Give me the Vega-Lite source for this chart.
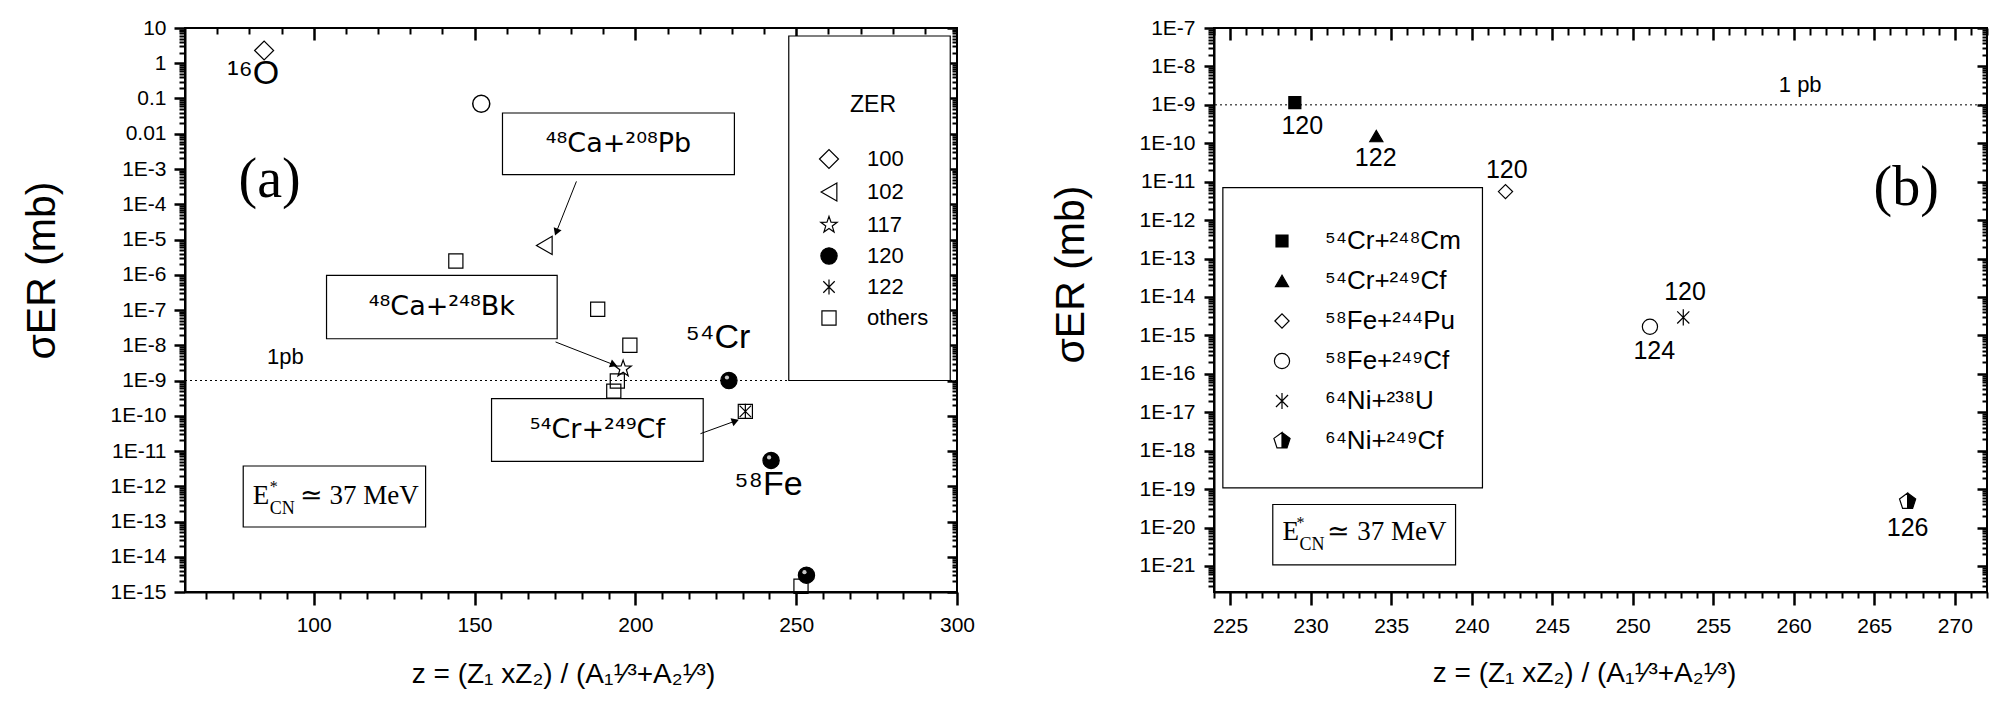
{
 "$schema": "https://vega.github.io/schema/vega-lite/v6.json",
 "padding": {"left": 20, "top": 16, "right": 5, "bottom": 5},
 "spacing": 257,
 "bounds": "flush",
 "resolve": {"scale": {"shape": "independent", "fill": "independent", "size": "independent"}, "legend": {"shape": "independent", "fill": "independent", "size": "independent"}},
 "config": {
  "view": {"stroke": "black", "strokeWidth": 2},
  "axis": {"grid": false, "ticks": true, "domainColor": "black", "domainWidth": 2, "tickColor": "black", "tickOpacity": 1, "tickWidth": 2.5, "labelColor": "black", "labelFont": "Liberation Sans", "labelFontSize": 21, "titleFont": "Liberation Sans", "titleColor": "black", "titleFontWeight": "normal", "labelOverlap": false, "labelBound": false, "labelFlush": false},
  "text": {"font": "Liberation Sans", "color": "black"}
 },
 "datasets": {
  "ptsA": [
   {"z": 84.6, "sigma": 2.3, "ZER": "100"},
   {"z": 171.7, "sigma": 6.8e-6, "ZER": "102"},
   {"z": 144.2, "sigma": 2.45e-6, "ZER": "others"},
   {"z": 188.3, "sigma": 1.05e-7, "ZER": "others"},
   {"z": 198.3, "sigma": 1.0e-8, "ZER": "others"},
   {"z": 196.2, "sigma": 2.16e-9, "ZER": "117"},
   {"z": 194.4, "sigma": 9.7e-10, "ZER": "others"},
   {"z": 193.3, "sigma": 5.0e-10, "ZER": "others"},
   {"z": 229.1, "sigma": 1.0e-9, "ZER": "120"},
   {"z": 234.2, "sigma": 1.33e-10, "ZER": "others"},
   {"z": 234.2, "sigma": 1.33e-10, "ZER": "122"},
   {"z": 242.2, "sigma": 5.4e-12, "ZER": "120"},
   {"z": 251.5, "sigma": 1.46e-15, "ZER": "others"},
   {"z": 253.2, "sigma": 3.0e-15, "ZER": "120"}
  ],
  "ptsB": [
   {"z": 229.02, "sigma": 1.14e-9, "reaction": "⁵⁴Cr+²⁴⁸Cm"},
   {"z": 234.08, "sigma": 1.54e-10, "reaction": "⁵⁴Cr+²⁴⁹Cf"},
   {"z": 242.1, "sigma": 5.53e-12, "reaction": "⁵⁸Fe+²⁴⁴Pu"},
   {"z": 251.07, "sigma": 1.68e-15, "reaction": "⁵⁸Fe+²⁴⁹Cf"},
   {"z": 253.14, "sigma": 2.94e-15, "reaction": "⁶⁴Ni+²³⁸U"},
   {"z": 267.07, "sigma": 4.75e-20, "reaction": "⁶⁴Ni+²⁴⁹Cf"}
  ]
 },
 "hconcat": [
  {
   "width": 772,
   "height": 564,
   "resolve": {"axis": {"x": "independent", "y": "independent"}},
   "layer": [
    {
     "data": {"values": [{"sigma": 1e-9}]},
     "mark": {"type": "rule", "strokeDash": [2, 3], "strokeWidth": 1, "color": "black"},
     "encoding": {
      "y": {"field": "sigma", "type": "quantitative", "scale": {"type": "log", "domain": [1e-15, 10], "nice": false}, "axis": null}
     }
    },
    {
     "data": {"values": [
      {"box": "Pb", "z": 158.7, "z2": 230.8, "sigma": 0.0388, "sigma2": 6.89e-4},
      {"box": "Bk", "z": 104.0, "z2": 175.7, "sigma": 9.6e-7, "sigma2": 1.53e-8},
      {"box": "Cf", "z": 155.3, "z2": 221.1, "sigma": 3.05e-10, "sigma2": 5.07e-12},
      {"box": "E", "z": 78.1, "z2": 134.8, "sigma": 3.75e-12, "sigma2": 6.98e-14},
      {"box": "legend", "z": 247.7, "z2": 297.9, "sigma": 5.93, "sigma2": 1e-9}
     ]},
     "mark": {"type": "rect", "fill": "white", "stroke": "black", "strokeWidth": 1.2},
     "encoding": {
      "x": {"field": "z", "type": "quantitative", "scale": {"type": "linear", "domain": [60, 300], "nice": false, "zero": false},
       "axis": {"orient": "bottom", "values": [66.6667, 75, 83.3333, 91.6667, 108.3333, 116.6667, 125, 133.3333, 141.6667, 158.3333, 166.6667, 175, 183.3333, 191.6667, 208.3333, 216.6667, 225, 233.3333, 241.6667, 258.3333, 266.6667, 275, 283.3333, 291.6667], "labels": false, "title": null, "domain": false, "tickSize": 7, "tickWidth": 2, "tickColor": "black"}},
      "x2": {"field": "z2"},
      "y": {"field": "sigma", "type": "quantitative", "scale": {"type": "log", "domain": [1e-15, 10], "nice": false},
       "axis": {"orient": "left", "values": [2e-15,3e-15,4e-15,5e-15,6e-15,7e-15,8e-15,9e-15,2e-14,3e-14,4e-14,5e-14,6e-14,7e-14,8e-14,9e-14,2e-13,3e-13,4e-13,5e-13,6e-13,7e-13,8e-13,9e-13,2e-12,3e-12,4e-12,5e-12,6e-12,7e-12,8e-12,9e-12,2e-11,3e-11,4e-11,5e-11,6e-11,7e-11,8e-11,9e-11,2e-10,3e-10,4e-10,5e-10,6e-10,7e-10,8e-10,9e-10,2e-9,3e-9,4e-9,5e-9,6e-9,7e-9,8e-9,9e-9,2e-8,3e-8,4e-8,5e-8,6e-8,7e-8,8e-8,9e-8,2e-7,3e-7,4e-7,5e-7,6e-7,7e-7,8e-7,9e-7,2e-6,3e-6,4e-6,5e-6,6e-6,7e-6,8e-6,9e-6,2e-5,3e-5,4e-5,5e-5,6e-5,7e-5,8e-5,9e-5,2e-4,3e-4,4e-4,5e-4,6e-4,7e-4,8e-4,9e-4,2e-3,3e-3,4e-3,5e-3,6e-3,7e-3,8e-3,9e-3,0.02,0.03,0.04,0.05,0.06,0.07,0.08,0.09,0.2,0.3,0.4,0.5,0.6,0.7,0.8,0.9,2,3,4,5,6,7,8,9], "labels": false, "title": null, "domain": false, "tickSize": 6, "tickWidth": 2, "tickColor": "black"}},
      "y2": {"field": "sigma2"}
     }
    },
    {
     "data": {"values": [
      {"z": 181.69, "sigma": 4.45e-4, "z2": 175.44, "sigma2": 1.63e-5},
      {"z": 175.2, "sigma": 1.24e-8, "z2": 193.3, "sigma2": 2.8e-9},
      {"z": 220.25, "sigma": 3.1e-11, "z2": 231.1, "sigma2": 7.1e-11}
     ]},
     "mark": {"type": "rule", "strokeWidth": 1, "color": "black"},
     "encoding": {
      "x": {"field": "z", "type": "quantitative", "scale": {"type": "linear", "domain": [60, 300], "nice": false, "zero": false}, "axis": null},
      "x2": {"field": "z2"},
      "y": {"field": "sigma", "type": "quantitative", "scale": {"type": "log", "domain": [1e-15, 10], "nice": false}, "axis": null},
      "y2": {"field": "sigma2"}
     }
    },
    {
     "data": {"values": [{"z": 175.44, "sigma": 1.63e-5}]},
     "mark": {"type": "point", "shape": "triangle-up", "filled": true, "color": "black", "opacity": 1, "size": 70, "angle": 201},
     "encoding": {
      "x": {"field": "z", "type": "quantitative", "scale": {"type": "linear", "domain": [60, 300], "nice": false, "zero": false}, "axis": null},
      "y": {"field": "sigma", "type": "quantitative", "scale": {"type": "log", "domain": [1e-15, 10], "nice": false}, "axis": null}
     }
    },
    {
     "data": {"values": [{"z": 193.3, "sigma": 2.8e-9}]},
     "mark": {"type": "point", "shape": "triangle-up", "filled": true, "color": "black", "opacity": 1, "size": 70, "angle": 111},
     "encoding": {
      "x": {"field": "z", "type": "quantitative", "scale": {"type": "linear", "domain": [60, 300], "nice": false, "zero": false}, "axis": null},
      "y": {"field": "sigma", "type": "quantitative", "scale": {"type": "log", "domain": [1e-15, 10], "nice": false}, "axis": null}
     }
    },
    {
     "data": {"values": [{"z": 231.1, "sigma": 7.1e-11}]},
     "mark": {"type": "point", "shape": "triangle-up", "filled": true, "color": "black", "opacity": 1, "size": 70, "angle": 70},
     "encoding": {
      "x": {"field": "z", "type": "quantitative", "scale": {"type": "linear", "domain": [60, 300], "nice": false, "zero": false}, "axis": null},
      "y": {"field": "sigma", "type": "quantitative", "scale": {"type": "log", "domain": [1e-15, 10], "nice": false}, "axis": null}
     }
    },
    {
     "data": {"values": [{"z": 152.1, "sigma": 0.071}]},
     "mark": {"type": "point", "shape": "circle", "filled": false, "color": "black", "opacity": 1, "strokeWidth": 1.5, "size": 290},
     "encoding": {
      "x": {"field": "z", "type": "quantitative", "scale": {"type": "linear", "domain": [60, 300], "nice": false, "zero": false}, "axis": null},
      "y": {"field": "sigma", "type": "quantitative", "scale": {"type": "log", "domain": [1e-15, 10], "nice": false}, "axis": null}
     }
    },
    {
     "data": {"name": "ptsA"},
     "mark": {"type": "point", "filled": true, "stroke": "black", "strokeWidth": 1.2, "opacity": 1},
     "encoding": {
      "x": {"field": "z", "type": "quantitative", "scale": {"type": "linear", "domain": [60, 300], "nice": false, "zero": false},
       "axis": {"orient": "bottom", "values": [100, 150, 200, 250, 300], "tickSize": 13, "tickWidth": 2.5, "tickColor": "black", "labelPadding": 9, "labelFontSize": 21,
        "title": "z = (Z₁ xZ₂) / (A₁¹⁄³+A₂¹⁄³)", "titleFontSize": 28, "titleX": 378, "titleY": 90, "titleBaseline": "alphabetic", "titleAlign": "center"}},
      "y": {"field": "sigma", "type": "quantitative", "scale": {"type": "log", "domain": [1e-15, 10], "nice": false},
       "axis": {"orient": "left", "values": [1e-15,1e-14,1e-13,1e-12,1e-11,1e-10,1e-9,1e-8,1e-7,1e-6,1e-5,1e-4,1e-3,0.01,0.1,1,10],
        "labelExpr": "round(log(datum.value)/LN10)==1 ? '10' : round(log(datum.value)/LN10)==0 ? '1' : round(log(datum.value)/LN10)==-1 ? '0.1' : round(log(datum.value)/LN10)==-2 ? '0.01' : '1E'+round(log(datum.value)/LN10)",
        "tickSize": 11, "tickWidth": 2.5, "tickColor": "black", "labelPadding": 8, "labelFontSize": 21,
        "title": "σER (mb)", "titleFontSize": 41, "titleX": -143, "titleY": 242, "titleAngle": -90, "titleBaseline": "middle", "titleAlign": "center"}},
      "shape": {"field": "ZER", "type": "nominal", "title": "ZER",
       "scale": {"domain": ["100", "102", "117", "120", "122", "others"], "range": ["diamond", "triangle-left", "M0,-1L0.235,-0.324L0.951,-0.309L0.38,0.124L0.588,0.809L0,0.4L-0.588,0.809L-0.38,0.124L-0.951,-0.309L-0.235,-0.324Z", "circle", "M0,-1L0,1M-0.75,-0.75L0.75,0.75M-0.75,0.75L0.75,-0.75", "square"]},
       "legend": {"orient": "none", "legendX": 633, "legendY": 66, "title": "ZER", "titleFontSize": 23, "titleFont": "Liberation Sans", "titleFontWeight": "normal", "titleColor": "black", "titleAnchor": "middle", "titlePadding": 31, "labelFontSize": 22, "labelFont": "Liberation Sans", "labelColor": "black", "labelOffset": 27, "rowPadding": 9, "padding": 0, "symbolStrokeColor": "black", "symbolStrokeWidth": 1.2, "symbolOpacity": 1}},
      "fill": {"field": "ZER", "type": "nominal", "title": "ZER", "scale": {"domain": ["100", "102", "117", "120", "122", "others"], "range": ["transparent", "transparent", "transparent", "black", "transparent", "transparent"]}},
      "size": {"field": "ZER", "type": "nominal", "title": "ZER", "scale": {"domain": ["100", "102", "117", "120", "122", "others"], "range": [361, 200, 372, 196, 300, 144]}}
     }
    },
    {
     "data": {"name": "ptsA"},
     "transform": [{"filter": "datum.ZER == '120'"}],
     "mark": {"type": "point", "shape": "circle", "filled": true, "color": "#c8c8c8", "opacity": 1, "size": 18},
     "encoding": {
      "x": {"field": "z", "type": "quantitative", "scale": {"type": "linear", "domain": [60, 300], "nice": false, "zero": false}, "axis": null},
      "y": {"field": "sigma", "type": "quantitative", "scale": {"type": "log", "domain": [1e-15, 10], "nice": false}, "axis": null},
      "xOffset": {"value": -2},
      "yOffset": {"value": -3}
     }
    },
    {
     "data": {"values": [
      {"z": 194.75, "sigma": 5.17e-3, "label": "⁴⁸Ca+²⁰⁸Pb"},
      {"z": 139.85, "sigma": 1.21e-7, "label": "⁴⁸Ca+²⁴⁸Bk"},
      {"z": 188.2, "sigma": 3.93e-11, "label": "⁵⁴Cr+²⁴⁹Cf"}
     ]},
     "mark": {"type": "text", "fontSize": 27, "align": "center", "baseline": "middle", "font": "DejaVu Sans"},
     "encoding": {
      "x": {"field": "z", "type": "quantitative", "scale": {"type": "linear", "domain": [60, 300], "nice": false, "zero": false},
       "axis": {"orient": "bottom", "offset": -564, "values": [100, 150, 200, 250], "labels": false, "title": null, "domain": false, "tickSize": 12, "tickWidth": 2.5, "tickColor": "black"}},
      "y": {"field": "sigma", "type": "quantitative", "scale": {"type": "log", "domain": [1e-15, 10], "nice": false},
       "axis": {"orient": "left", "offset": -772, "values": [1e-15,1e-14,1e-13,1e-12,1e-11,1e-10,1e-9,1e-8,1e-7,1e-6,1e-5,1e-4,1e-3,0.01,0.1,1,10], "labels": false, "title": null, "domain": false, "tickSize": 10, "tickWidth": 2.5, "tickColor": "black"}},
      "text": {"field": "label"}
     }
    },
    {
     "data": {"values": [
      {"z": 81.2, "sigma": 0.263, "label": "¹⁶O"},
      {"z": 225.7, "sigma": 8.36e-9, "label": "⁵⁴Cr"},
      {"z": 241.4, "sigma": 5.5e-13, "label": "⁵⁸Fe"}
     ]},
     "mark": {"type": "text", "fontSize": 34, "align": "center", "baseline": "alphabetic", "font": "Liberation Sans"},
     "encoding": {
      "x": {"field": "z", "type": "quantitative", "scale": {"type": "linear", "domain": [60, 300], "nice": false, "zero": false},
       "axis": {"orient": "bottom", "offset": -564, "values": [70, 80, 90, 110, 120, 130, 140, 160, 170, 180, 190, 210, 220, 230, 240, 260, 270, 280, 290], "labels": false, "title": null, "domain": false, "tickSize": 6, "tickWidth": 2, "tickColor": "black"}},
      "y": {"field": "sigma", "type": "quantitative", "scale": {"type": "log", "domain": [1e-15, 10], "nice": false},
       "axis": {"orient": "left", "offset": -772, "values": [2e-15,3e-15,4e-15,5e-15,6e-15,7e-15,8e-15,9e-15,2e-14,3e-14,4e-14,5e-14,6e-14,7e-14,8e-14,9e-14,2e-13,3e-13,4e-13,5e-13,6e-13,7e-13,8e-13,9e-13,2e-12,3e-12,4e-12,5e-12,6e-12,7e-12,8e-12,9e-12,2e-11,3e-11,4e-11,5e-11,6e-11,7e-11,8e-11,9e-11,2e-10,3e-10,4e-10,5e-10,6e-10,7e-10,8e-10,9e-10,2e-9,3e-9,4e-9,5e-9,6e-9,7e-9,8e-9,9e-9,2e-8,3e-8,4e-8,5e-8,6e-8,7e-8,8e-8,9e-8,2e-7,3e-7,4e-7,5e-7,6e-7,7e-7,8e-7,9e-7,2e-6,3e-6,4e-6,5e-6,6e-6,7e-6,8e-6,9e-6,2e-5,3e-5,4e-5,5e-5,6e-5,7e-5,8e-5,9e-5,2e-4,3e-4,4e-4,5e-4,6e-4,7e-4,8e-4,9e-4,2e-3,3e-3,4e-3,5e-3,6e-3,7e-3,8e-3,9e-3,0.02,0.03,0.04,0.05,0.06,0.07,0.08,0.09,0.2,0.3,0.4,0.5,0.6,0.7,0.8,0.9,2,3,4,5,6,7,8,9], "labels": false, "title": null, "domain": false, "tickSize": 5, "tickWidth": 2, "tickColor": "black"}},
      "text": {"field": "label"}
     }
    },
    {
     "data": {"values": [{"z": 91.2, "sigma": 4.73e-9, "label": "1pb"}]},
     "mark": {"type": "text", "fontSize": 22, "align": "center", "baseline": "middle", "font": "Liberation Sans"},
     "encoding": {
      "x": {"field": "z", "type": "quantitative", "scale": {"type": "linear", "domain": [60, 300], "nice": false, "zero": false}, "axis": null},
      "y": {"field": "sigma", "type": "quantitative", "scale": {"type": "log", "domain": [1e-15, 10], "nice": false}, "axis": null},
      "text": {"field": "label"}
     }
    },
    {
     "data": {"values": [{"z": 86.3, "sigma": 4.75e-4, "label": "(a)"}]},
     "mark": {"type": "text", "fontSize": 56, "align": "center", "baseline": "middle", "font": "Liberation Serif"},
     "encoding": {
      "x": {"field": "z", "type": "quantitative", "scale": {"type": "linear", "domain": [60, 300], "nice": false, "zero": false}, "axis": null},
      "y": {"field": "sigma", "type": "quantitative", "scale": {"type": "log", "domain": [1e-15, 10], "nice": false}, "axis": null},
      "text": {"field": "label"}
     }
    },
    {
     "data": {"values": [{"z": 81.04, "sigma": 3.2e-13}]},
     "encoding": {
      "x": {"field": "z", "type": "quantitative", "scale": {"type": "linear", "domain": [60, 300], "nice": false, "zero": false}, "axis": null},
      "y": {"field": "sigma", "type": "quantitative", "scale": {"type": "log", "domain": [1e-15, 10], "nice": false}, "axis": null}
     },
     "layer": [
      {"mark": {"type": "text", "font": "Liberation Serif", "fontSize": 27, "align": "left", "baseline": "alphabetic"}, "encoding": {"text": {"value": "E"}}},
      {"mark": {"type": "text", "font": "Liberation Serif", "fontSize": 16, "align": "left", "baseline": "alphabetic", "dx": 17, "dy": -12}, "encoding": {"text": {"value": "*"}}},
      {"mark": {"type": "text", "font": "Liberation Serif", "fontSize": 18, "align": "left", "baseline": "alphabetic", "dx": 17, "dy": 10}, "encoding": {"text": {"value": "CN"}}},
      {"mark": {"type": "text", "font": "Liberation Serif", "fontSize": 27, "align": "left", "baseline": "alphabetic", "dx": 47}, "encoding": {"text": {"value": "≃ 37 MeV"}}}
     ]
    }
   ]
  },
  {
   "width": 773,
   "height": 564,
   "resolve": {"axis": {"x": "independent", "y": "independent"}},
   "layer": [
    {
     "data": {"values": [{"sigma": 1e-9}]},
     "mark": {"type": "rule", "strokeDash": [2, 3], "strokeWidth": 1, "color": "black"},
     "encoding": {
      "y": {"field": "sigma", "type": "quantitative", "scale": {"type": "log", "domain": [2.1e-22, 1e-7], "nice": false}, "axis": null}
     }
    },
    {
     "data": {"values": [
      {"box": "legend", "z": 224.55, "z2": 240.67, "sigma": 7.03e-12, "sigma2": 1.08e-19},
      {"box": "E", "z": 227.65, "z2": 239.0, "sigma": 3.98e-20, "sigma2": 1.07e-21}
     ]},
     "mark": {"type": "rect", "fill": "white", "stroke": "black", "strokeWidth": 1.2},
     "encoding": {
      "x": {"field": "z", "type": "quantitative", "scale": {"type": "linear", "domain": [224, 272], "nice": false, "zero": false},
       "axis": {"orient": "bottom", "values": [224,226,227,228,229,231,232,233,234,236,237,238,239,241,242,243,244,246,247,248,249,251,252,253,254,256,257,258,259,261,262,263,264,266,267,268,269,271,272], "labels": false, "title": null, "domain": false, "tickSize": 6, "tickWidth": 2, "tickColor": "black"}},
      "x2": {"field": "z2"},
      "y": {"field": "sigma", "type": "quantitative", "scale": {"type": "log", "domain": [2.1e-22, 1e-7], "nice": false},
       "axis": {"orient": "left", "values": [3e-22,4e-22,5e-22,6e-22,7e-22,8e-22,9e-22,2e-21,3e-21,4e-21,5e-21,6e-21,7e-21,8e-21,9e-21,2e-20,3e-20,4e-20,5e-20,6e-20,7e-20,8e-20,9e-20,2e-19,3e-19,4e-19,5e-19,6e-19,7e-19,8e-19,9e-19,2e-18,3e-18,4e-18,5e-18,6e-18,7e-18,8e-18,9e-18,2e-17,3e-17,4e-17,5e-17,6e-17,7e-17,8e-17,9e-17,2e-16,3e-16,4e-16,5e-16,6e-16,7e-16,8e-16,9e-16,2e-15,3e-15,4e-15,5e-15,6e-15,7e-15,8e-15,9e-15,2e-14,3e-14,4e-14,5e-14,6e-14,7e-14,8e-14,9e-14,2e-13,3e-13,4e-13,5e-13,6e-13,7e-13,8e-13,9e-13,2e-12,3e-12,4e-12,5e-12,6e-12,7e-12,8e-12,9e-12,2e-11,3e-11,4e-11,5e-11,6e-11,7e-11,8e-11,9e-11,2e-10,3e-10,4e-10,5e-10,6e-10,7e-10,8e-10,9e-10,2e-9,3e-9,4e-9,5e-9,6e-9,7e-9,8e-9,9e-9,2e-8,3e-8,4e-8,5e-8,6e-8,7e-8,8e-8,9e-8], "labels": false, "title": null, "domain": false, "tickSize": 6, "tickWidth": 2, "tickColor": "black"}},
      "y2": {"field": "sigma2"}
     }
    },
    {
     "data": {"name": "ptsB"},
     "mark": {"type": "point", "filled": true, "stroke": "black", "strokeWidth": 1.2, "opacity": 1},
     "encoding": {
      "x": {"field": "z", "type": "quantitative", "scale": {"type": "linear", "domain": [224, 272], "nice": false, "zero": false},
       "axis": {"orient": "bottom", "values": [225, 230, 235, 240, 245, 250, 255, 260, 265, 270], "tickSize": 13, "tickWidth": 2.5, "tickColor": "black", "labelPadding": 10, "labelFontSize": 21,
        "title": "z = (Z₁ xZ₂) / (A₁¹⁄³+A₂¹⁄³)", "titleFontSize": 28, "titleX": 370, "titleY": 89, "titleBaseline": "alphabetic", "titleAlign": "center"}},
      "y": {"field": "sigma", "type": "quantitative", "scale": {"type": "log", "domain": [2.1e-22, 1e-7], "nice": false},
       "axis": {"orient": "left", "values": [1e-21,1e-20,1e-19,1e-18,1e-17,1e-16,1e-15,1e-14,1e-13,1e-12,1e-11,1e-10,1e-9,1e-8,1e-7],
        "labelExpr": "'1E'+round(log(datum.value)/LN10)",
        "tickSize": 10, "tickWidth": 2.5, "tickColor": "black", "labelPadding": 9, "labelFontSize": 21,
        "title": "σER (mb)", "titleFontSize": 41, "titleX": -143, "titleY": 246, "titleAngle": -90, "titleBaseline": "middle", "titleAlign": "center"}},
      "shape": {"field": "reaction", "type": "nominal", "title": "reaction",
       "scale": {"domain": ["⁵⁴Cr+²⁴⁸Cm", "⁵⁴Cr+²⁴⁹Cf", "⁵⁸Fe+²⁴⁴Pu", "⁵⁸Fe+²⁴⁹Cf", "⁶⁴Ni+²³⁸U", "⁶⁴Ni+²⁴⁹Cf"], "range": ["square", "triangle-up", "diamond", "circle", "M0,-1L0,1M-0.75,-0.75L0.75,0.75M-0.75,0.75L0.75,-0.75", "M0,-1L0.951,-0.309L0.588,0.809L-0.588,0.809L-0.951,-0.309ZM0,-1L-0.951,-0.309L-0.588,0.809L0,0.809Z"]},
       "legend": {"orient": "none", "legendX": 55, "legendY": 200, "title": null, "labelFontSize": 26, "labelFont": "Liberation Sans", "labelColor": "black", "labelOffset": 30, "rowPadding": 14, "padding": 0, "labelLimit": 400, "symbolStrokeColor": "black", "symbolStrokeWidth": 1.2, "symbolOpacity": 1}},
      "fill": {"field": "reaction", "type": "nominal", "title": "reaction", "scale": {"domain": ["⁵⁴Cr+²⁴⁸Cm", "⁵⁴Cr+²⁴⁹Cf", "⁵⁸Fe+²⁴⁴Pu", "⁵⁸Fe+²⁴⁹Cf", "⁶⁴Ni+²³⁸U", "⁶⁴Ni+²⁴⁹Cf"], "range": ["black", "black", "transparent", "transparent", "transparent", "black"]}},
      "size": {"field": "reaction", "type": "nominal", "title": "reaction", "scale": {"domain": ["⁵⁴Cr+²⁴⁸Cm", "⁵⁴Cr+²⁴⁹Cf", "⁵⁸Fe+²⁴⁴Pu", "⁵⁸Fe+²⁴⁹Cf", "⁶⁴Ni+²³⁸U", "⁶⁴Ni+²⁴⁹Cf"], "range": [144, 289, 300, 180, 400, 250]}}
     }
    },
    {
     "data": {"values": [
      {"z": 229.48, "sigma": 2.8e-10, "label": "120"},
      {"z": 234.04, "sigma": 4.06e-11, "label": "122"},
      {"z": 242.18, "sigma": 2.02e-11, "label": "120"},
      {"z": 251.34, "sigma": 3.99e-16, "label": "124"},
      {"z": 253.25, "sigma": 1.31e-14, "label": "120"},
      {"z": 267.07, "sigma": 9.66e-21, "label": "126"}
     ]},
     "mark": {"type": "text", "fontSize": 25, "align": "center", "baseline": "middle", "font": "Liberation Sans"},
     "encoding": {
      "x": {"field": "z", "type": "quantitative", "scale": {"type": "linear", "domain": [224, 272], "nice": false, "zero": false},
       "axis": {"orient": "bottom", "offset": -564, "values": [225, 230, 235, 240, 245, 250, 255, 260, 265, 270], "labels": false, "title": null, "domain": false, "tickSize": 12, "tickWidth": 2.5, "tickColor": "black"}},
      "y": {"field": "sigma", "type": "quantitative", "scale": {"type": "log", "domain": [2.1e-22, 1e-7], "nice": false},
       "axis": {"orient": "left", "offset": -773, "values": [1e-21,1e-20,1e-19,1e-18,1e-17,1e-16,1e-15,1e-14,1e-13,1e-12,1e-11,1e-10,1e-9,1e-8,1e-7], "labels": false, "title": null, "domain": false, "tickSize": 10, "tickWidth": 2.5, "tickColor": "black"}},
      "text": {"field": "label"}
     }
    },
    {
     "data": {"values": [{"z": 260.4, "sigma": 3.2e-9, "label": "1 pb"}]},
     "mark": {"type": "text", "fontSize": 22, "align": "center", "baseline": "middle", "font": "Liberation Sans"},
     "encoding": {
      "x": {"field": "z", "type": "quantitative", "scale": {"type": "linear", "domain": [224, 272], "nice": false, "zero": false}, "axis": null},
      "y": {"field": "sigma", "type": "quantitative", "scale": {"type": "log", "domain": [2.1e-22, 1e-7], "nice": false}, "axis": null},
      "text": {"field": "label"}
     }
    },
    {
     "data": {"values": [{"z": 266.98, "sigma": 6.75e-12, "label": "(b)"}]},
     "mark": {"type": "text", "fontSize": 56, "align": "center", "baseline": "middle", "font": "Liberation Serif"},
     "encoding": {
      "x": {"field": "z", "type": "quantitative", "scale": {"type": "linear", "domain": [224, 272], "nice": false, "zero": false},
       "axis": {"orient": "bottom", "offset": -564, "values": [224,226,227,228,229,231,232,233,234,236,237,238,239,241,242,243,244,246,247,248,249,251,252,253,254,256,257,258,259,261,262,263,264,266,267,268,269,271,272], "labels": false, "title": null, "domain": false, "tickSize": 7, "tickWidth": 2, "tickColor": "black"}},
      "y": {"field": "sigma", "type": "quantitative", "scale": {"type": "log", "domain": [2.1e-22, 1e-7], "nice": false},
       "axis": {"orient": "left", "offset": -773, "values": [3e-22,4e-22,5e-22,6e-22,7e-22,8e-22,9e-22,2e-21,3e-21,4e-21,5e-21,6e-21,7e-21,8e-21,9e-21,2e-20,3e-20,4e-20,5e-20,6e-20,7e-20,8e-20,9e-20,2e-19,3e-19,4e-19,5e-19,6e-19,7e-19,8e-19,9e-19,2e-18,3e-18,4e-18,5e-18,6e-18,7e-18,8e-18,9e-18,2e-17,3e-17,4e-17,5e-17,6e-17,7e-17,8e-17,9e-17,2e-16,3e-16,4e-16,5e-16,6e-16,7e-16,8e-16,9e-16,2e-15,3e-15,4e-15,5e-15,6e-15,7e-15,8e-15,9e-15,2e-14,3e-14,4e-14,5e-14,6e-14,7e-14,8e-14,9e-14,2e-13,3e-13,4e-13,5e-13,6e-13,7e-13,8e-13,9e-13,2e-12,3e-12,4e-12,5e-12,6e-12,7e-12,8e-12,9e-12,2e-11,3e-11,4e-11,5e-11,6e-11,7e-11,8e-11,9e-11,2e-10,3e-10,4e-10,5e-10,6e-10,7e-10,8e-10,9e-10,2e-9,3e-9,4e-9,5e-9,6e-9,7e-9,8e-9,9e-9,2e-8,3e-8,4e-8,5e-8,6e-8,7e-8,8e-8,9e-8], "labels": false, "title": null, "domain": false, "tickSize": 5, "tickWidth": 2, "tickColor": "black"}},
      "text": {"field": "label"}
     }
    },
    {
     "data": {"values": [{"z": 228.25, "sigma": 4.6e-21}]},
     "encoding": {
      "x": {"field": "z", "type": "quantitative", "scale": {"type": "linear", "domain": [224, 272], "nice": false, "zero": false}, "axis": null},
      "y": {"field": "sigma", "type": "quantitative", "scale": {"type": "log", "domain": [2.1e-22, 1e-7], "nice": false}, "axis": null}
     },
     "layer": [
      {"mark": {"type": "text", "font": "Liberation Serif", "fontSize": 27, "align": "left", "baseline": "alphabetic"}, "encoding": {"text": {"value": "E"}}},
      {"mark": {"type": "text", "font": "Liberation Serif", "fontSize": 16, "align": "left", "baseline": "alphabetic", "dx": 14, "dy": -12}, "encoding": {"text": {"value": "*"}}},
      {"mark": {"type": "text", "font": "Liberation Serif", "fontSize": 18, "align": "left", "baseline": "alphabetic", "dx": 17, "dy": 10}, "encoding": {"text": {"value": "CN"}}},
      {"mark": {"type": "text", "font": "Liberation Serif", "fontSize": 27, "align": "left", "baseline": "alphabetic", "dx": 45}, "encoding": {"text": {"value": "≃ 37 MeV"}}}
     ]
    }
   ]
  }
 ]
}
